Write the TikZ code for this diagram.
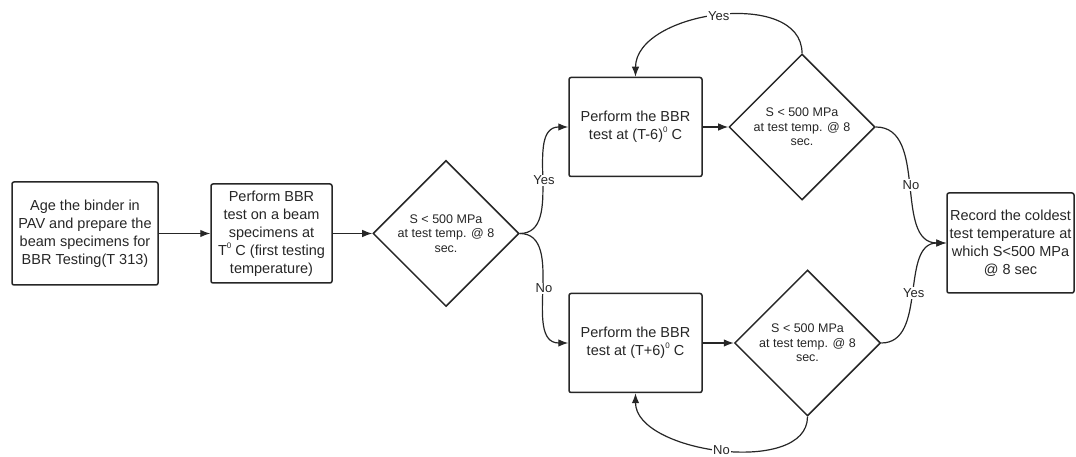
\documentclass[tikz,border=0pt]{standalone}
\usepackage{fontspec}
\setmainfont{Liberation Sans}
\usetikzlibrary{shapes.geometric,arrows.meta}

\newcommand{\degsup}{\raisebox{0.9ex}{\fontsize{8}{8}\selectfont 0}}

\begin{document}
\begin{tikzpicture}[node distance=180pt,>={Latex[length=10pt,width=7.5pt]}]

  \tikzstyle{block}=[rectangle,rounded corners=2pt,draw=black!85,line width=1.5pt,align=center,text=black!85,font=\fontsize{14.5}{18}\selectfont,inner sep=2pt]
  \tikzstyle{decision}=[diamond,aspect=1,draw=black!85,line width=1.5pt,align=center,text=black!85,font=\fontsize{12.5}{14.5}\selectfont,inner sep=0pt,minimum width=146pt,minimum height=146pt]
  \tikzstyle{conn}=[draw=black!85,line width=1.2pt]
  \tikzstyle{texto}=[fill=white,inner sep=1pt,text=black!85,font=\fontsize{13}{15}\selectfont]

  \useasboundingbox (0,0) rectangle (1076pt,457pt);

  \begin{scope}

    \node [block,minimum width=146pt,minimum height=103pt] (b1) at (85pt,223.5pt) {Age the binder in\\PAV and prepare the\\beam specimens for\\BBR Testing(T 313)};

    \node [block,minimum width=121pt,minimum height=99pt] (b2) [right of=b1,xshift=6.5pt] {Perform BBR\\test on a beam\\specimens at\\T\degsup{} C (first testing\\temperature)}
    edge [conn,<-] (b1);

    \node [decision] (d1) [right of=b2,xshift=-5.5pt] {S < 500 MPa\\at test temp. @ 8\\sec.}
    edge [conn,<-] (b2);

    \node [block,minimum width=133pt,minimum height=99pt] (b3) [right of=d1,xshift=9.5pt,yshift=106.5pt] {Perform the BBR\\test at (T-6)\degsup{} C}
    edge [conn,<-,out=180,in=0] node [texto] {Yes} (d1);

    \node [block,minimum width=133pt,minimum height=99pt] (b4) [right of=d1,xshift=9.5pt,yshift=-109.5pt] {Perform the BBR\\test at (T+6)\degsup{} C}
    edge [conn,<-,out=180,in=0] node [texto] {No} (d1);

    \node [decision] (d2) [right of=b3,xshift=-13.5pt] {S < 500 MPa\\at test temp. @ 8\\sec.}
    edge [conn,<-] (b3)
    edge [conn,->,out=90,in=90] node [texto] {Yes} (b3);

    \node [decision] (d3) [right of=b4,xshift=-8pt] {S < 500 MPa\\at test temp. @ 8\\sec.}
    edge [conn,<-] (b4)
    edge [conn,->,out=-90,in=-90,looseness=0.88] node [texto] {No} (b4);

    \node [block,minimum width=127pt,minimum height=100pt] (b5) [right of=d2,xshift=28.5pt,yshift=-116pt] {Record the coldest\\test temperature at\\which S<500 MPa\\@ 8 sec}
    edge [conn,<-,out=180,in=0] node [texto] {No} (d2)
    edge [conn,<-,out=180,in=0] node [texto] {Yes} (d3);

  \end{scope}

\end{tikzpicture}
\end{document}
